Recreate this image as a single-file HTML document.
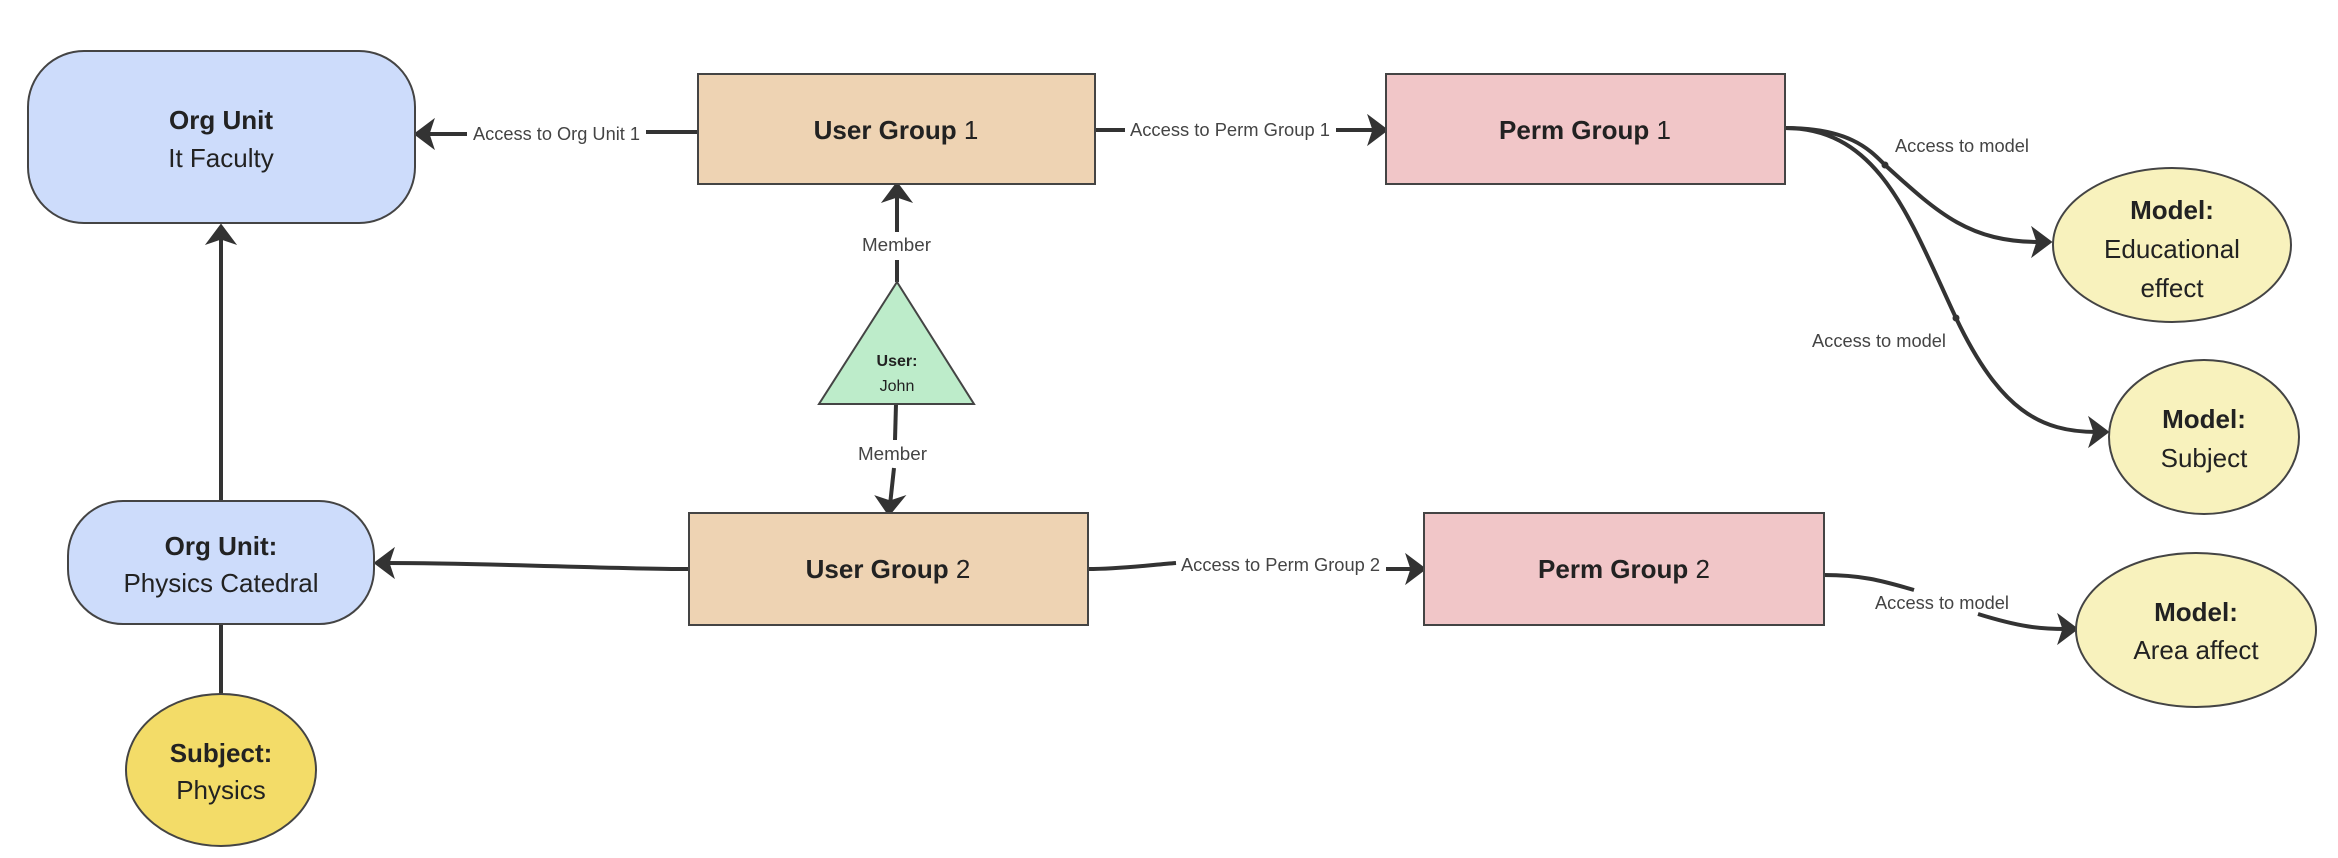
<!DOCTYPE html>
<html><head><meta charset="utf-8"><style>
html,body{margin:0;padding:0;background:#fff;}
svg{display:block;}
.n{font-family:"Liberation Sans",sans-serif;font-size:26px;fill:#222;text-anchor:middle;}
.b{font-weight:bold;}
.l{font-family:"Liberation Sans",sans-serif;font-size:18px;fill:#444;}
.e{fill:none;stroke:#333;stroke-width:4;}
</style></head><body>
<svg width="2338" height="858" viewBox="0 0 2338 858" xmlns="http://www.w3.org/2000/svg">
<!-- UG1 -> Org It Faculty -->
<path class="e" d="M698 132 L646 132"/><path class="e" d="M467 134 L424 134"/>
<path d="M416 134 L432 122 L428 134 L432 146 Z" fill="#333" stroke="#333" stroke-width="3"/>
<text class="l" x="473" y="140" textLength="167" lengthAdjust="spacingAndGlyphs">Access to Org Unit 1</text>
<!-- UG1 -> PG1 -->
<path class="e" d="M1095 130 L1125 130"/><path class="e" d="M1336 130 L1378 130"/>
<path d="M1386 130 L1370 118 L1374 130 L1370 142 Z" fill="#333" stroke="#333" stroke-width="3"/>
<text class="l" x="1130" y="136" textLength="200" lengthAdjust="spacingAndGlyphs">Access to Perm Group 1</text>
<!-- Member up -->
<path class="e" d="M897 282 L897 260"/><path class="e" d="M897 232 L897 192"/>
<path d="M897 184 L885 200 L897 196 L909 200 Z" fill="#333" stroke="#333" stroke-width="3"/>
<text class="l" x="862" y="251" textLength="69" lengthAdjust="spacingAndGlyphs">Member</text>
<!-- Member down -->
<path class="e" d="M896 404 L895 440"/><path class="e" d="M894 468 L890 505"/>
<path d="M889 514 L878 498 L890 502 L902 498 Z" fill="#333" stroke="#333" stroke-width="3"/>
<text class="l" x="858" y="460" textLength="69" lengthAdjust="spacingAndGlyphs">Member</text>
<!-- UG2 -> Org Physics -->
<path class="e" d="M689 569 C600 569 500 563 384 563"/>
<path d="M376 563 L392 551 L388 563 L392 575 Z" fill="#333" stroke="#333" stroke-width="3"/>
<!-- UG2 -> PG2 -->
<path class="e" d="M1088 569 C1120 569 1150 565 1176 563"/><path class="e" d="M1386 569 L1416 569"/>
<path d="M1424 569 L1408 557 L1412 569 L1408 581 Z" fill="#333" stroke="#333" stroke-width="3"/>
<text class="l" x="1181" y="571" textLength="199" lengthAdjust="spacingAndGlyphs">Access to Perm Group 2</text>
<!-- Physics -> It Faculty -->
<path class="e" d="M221 501 L221 236"/>
<path d="M221 226 L209 242 L221 238 L233 242 Z" fill="#333" stroke="#333" stroke-width="3"/>
<!-- Subject - Physics -->
<path class="e" d="M221 624 L221 694"/>
<!-- PG1 -> Educational -->
<path class="e" d="M1785 128 C1850 128 1870 150 1885 165 C1940 215 1970 242 2040 242"/>
<path d="M2050 242 L2034 230 L2038 242 L2034 254 Z" fill="#333" stroke="#333" stroke-width="3"/>
<circle cx="1885" cy="165" r="3.5" fill="#333"/>
<text class="l" x="1895" y="152" textLength="134" lengthAdjust="spacingAndGlyphs">Access to model</text>
<!-- PG1 -> Subject -->
<path class="e" d="M1785 128 C1880 128 1910 220 1956 318 C2000 410 2040 432 2097 432"/>
<path d="M2107 432 L2091 420 L2095 432 L2091 444 Z" fill="#333" stroke="#333" stroke-width="3"/>
<circle cx="1956" cy="318" r="3.5" fill="#333"/>
<text class="l" x="1812" y="347" textLength="134" lengthAdjust="spacingAndGlyphs">Access to model</text>
<!-- PG2 -> Area -->
<path class="e" d="M1824 575 C1860 575 1880 580 1914 590"/>
<path class="e" d="M1978 614 C2020 627 2040 629 2066 629"/>
<path d="M2076 629 L2060 617 L2064 629 L2060 641 Z" fill="#333" stroke="#333" stroke-width="3"/>
<text class="l" x="1875" y="609" textLength="134" lengthAdjust="spacingAndGlyphs">Access to model</text>

<!-- nodes -->
<rect x="28" y="51" width="387" height="172" rx="56" fill="#cddcfb" stroke="#444" stroke-width="2"/>
<text class="n b" x="221" y="129">Org Unit</text>
<text class="n" x="221" y="167">It Faculty</text>

<rect x="68" y="501" width="306" height="123" rx="55" fill="#cddcfb" stroke="#444" stroke-width="2"/>
<text class="n b" x="221" y="555">Org Unit:</text>
<text class="n" x="221" y="592">Physics Catedral</text>

<ellipse cx="221" cy="770" rx="95" ry="76" fill="#f3dc68" stroke="#444" stroke-width="2"/>
<text class="n b" x="221" y="762">Subject:</text>
<text class="n" x="221" y="799">Physics</text>

<rect x="698" y="74" width="397" height="110" fill="#eed3b3" stroke="#444" stroke-width="2"/>
<text class="n" x="896" y="139"><tspan font-weight="bold">User Group</tspan> 1</text>

<rect x="689" y="513" width="399" height="112" fill="#eed3b3" stroke="#444" stroke-width="2"/>
<text class="n" x="888" y="578"><tspan font-weight="bold">User Group</tspan> 2</text>

<polygon points="897,282 974,404 819,404" fill="#bdecca" stroke="#444" stroke-width="2"/>
<text x="897" y="366" style="font-family:'Liberation Sans',sans-serif;font-weight:bold;fill:#222;font-size:16px;text-anchor:middle">User:</text>
<text x="897" y="391" style="font-family:'Liberation Sans',sans-serif;fill:#222;font-size:16px;text-anchor:middle">John</text>

<rect x="1386" y="74" width="399" height="110" fill="#f1c6c8" stroke="#444" stroke-width="2"/>
<text class="n" x="1585" y="139"><tspan font-weight="bold">Perm Group</tspan> 1</text>

<rect x="1424" y="513" width="400" height="112" fill="#f1c6c8" stroke="#444" stroke-width="2"/>
<text class="n" x="1624" y="578"><tspan font-weight="bold">Perm Group</tspan> 2</text>

<ellipse cx="2172" cy="245" rx="119" ry="77" fill="#f8f2bd" stroke="#444" stroke-width="2"/>
<text class="n b" x="2172" y="219">Model:</text>
<text class="n" x="2172" y="258">Educational</text>
<text class="n" x="2172" y="297">effect</text>

<ellipse cx="2204" cy="437" rx="95" ry="77" fill="#f8f2bd" stroke="#444" stroke-width="2"/>
<text class="n b" x="2204" y="428">Model:</text>
<text class="n" x="2204" y="467">Subject</text>

<ellipse cx="2196" cy="630" rx="120" ry="77" fill="#f8f2bd" stroke="#444" stroke-width="2"/>
<text class="n b" x="2196" y="621">Model:</text>
<text class="n" x="2196" y="659">Area affect</text>
</svg>
</body></html>
